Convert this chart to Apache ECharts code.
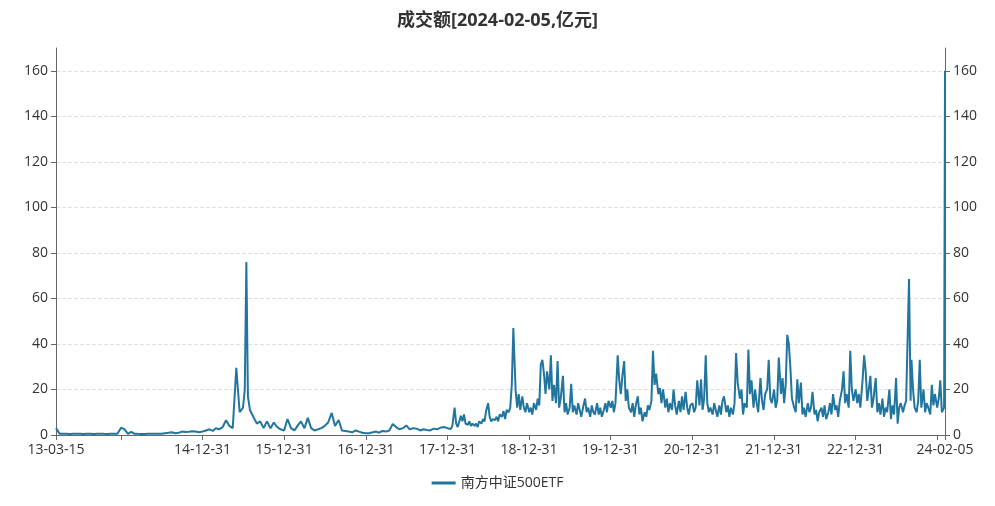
<!DOCTYPE html>
<html>
<head>
<meta charset="utf-8">
<script src="https://cdn.jsdelivr.net/npm/echarts@6/dist/echarts.min.js"></script>
<style>html,body{margin:0;padding:0;background:#fff}#c{width:995px;height:506px}</style>
</head>
<body>
<div id="c"></div>
<script>
// ---- Dates (YY-MM-DD) and turnover values (亿元) ----
const dates2013 = ['13-03-15','13-03-31','13-04-15','13-04-30','13-05-15','13-05-31','13-06-15','13-06-30','13-07-15','13-07-31','13-08-15','13-08-31','13-09-15','13-09-30','13-10-15','13-10-31','13-11-15','13-11-30','13-12-15','13-12-31'];
const vals2013  = [3.0,0.6,0.5,0.5,0.4,0.5,0.5,0.6,0.4,0.5,0.5,0.4,0.5,0.6,0.5,0.4,0.5,0.6,0.5,3.2];
const dates2014 = ['14-01-15','14-01-31','14-02-15','14-02-28','14-03-15','14-03-31','14-04-15','14-04-30','14-05-15','14-05-31','14-06-15','14-06-30','14-07-15','14-07-31','14-08-15','14-08-31','14-09-15','14-09-30','14-10-15','14-10-31','14-11-15','14-11-30','14-12-15','14-12-31'];
const vals2014  = [2.6,0.5,1.4,0.6,0.5,0.4,0.4,0.5,0.5,0.5,0.5,0.6,0.8,1.0,1.2,0.8,1.0,1.5,1.3,1.4,1.6,1.5,1.2,1.5];
const dates2015 = ['15-01-15','15-01-31','15-02-15','15-02-28','15-03-15','15-03-31','15-04-15','15-04-30','15-05-15','15-05-31','15-06-15','15-06-30','15-07-08','15-07-15','15-07-22','15-07-31','15-08-15','15-08-31','15-09-15','15-09-30','15-10-15','15-10-31','15-11-15','15-11-30','15-12-15','15-12-31'];
const vals2015  = [2.0,2.5,1.8,3.0,2.5,3.5,6.5,4.0,3.0,29.5,10,12,20,76,17,11,8,5,6,3,6,3,5.5,3.5,2.5,2.0];
const dates2016 = ['16-01-15','16-01-31','16-02-15','16-02-29','16-03-15','16-03-31','16-04-15','16-04-30','16-05-15','16-05-31','16-06-15','16-06-30','16-07-15','16-07-31','16-08-15','16-08-31','16-09-15','16-09-30','16-10-15','16-10-31','16-11-15','16-11-30','16-12-15','16-12-31'];
const vals2016  = [7,3,2,4,6,3,7.5,3,2,2.5,3,4,5.5,9.7,4,6.6,2,1.8,1.5,1.2,2,1.5,1.0,0.8];
const dates2017 = ['17-01-15','17-01-31','17-02-15','17-02-28','17-03-15','17-03-31','17-04-15','17-04-30','17-05-15','17-05-31','17-06-15','17-06-30','17-07-15','17-07-31','17-08-15','17-08-31','17-09-15','17-09-30','17-10-15','17-10-31','17-11-15','17-11-30','17-12-15','17-12-31'];
const vals2017  = [0.8,1.2,1.5,1.0,1.8,1.5,2.0,4.8,3.5,2.5,3.0,4.2,2.5,3.0,2.8,2.0,2.5,2.2,2.0,2.8,2.5,3.2,3.5,3.0];
const dates2018 = ['18-01-01','18-01-08','18-01-15','18-01-22','18-02-01','18-02-08','18-02-15','18-02-22','18-03-01','18-03-08','18-03-15','18-03-22','18-04-01','18-04-08','18-04-15','18-04-22','18-05-01','18-05-08','18-05-15','18-05-22','18-06-01','18-06-08','18-06-15','18-06-22','18-07-01','18-07-08','18-07-15','18-07-22','18-08-01','18-08-08','18-08-15','18-08-22','18-09-01','18-09-08','18-09-15','18-09-22','18-10-01','18-10-08','18-10-15','18-10-22','18-11-01','18-11-08','18-11-15','18-11-22','18-12-01','18-12-08','18-12-15','18-12-22'];
const vals2018  = [2.5,3,2.6,4, 12,5,3.5,4, 8.4,6,9,5, 4.5,6,4,5, 4,5,3.5,6, 5,7,6,10.5, 14,8,6,7, 6.5,8,6,9, 8,10.5,7,11, 10,12,22,47, 20,12,18,11, 17,12,10,14];
const dates2019 = ['19-01-01','19-01-08','19-01-15','19-01-22','19-02-01','19-02-08','19-02-15','19-02-22','19-03-01','19-03-08','19-03-15','19-03-22','19-04-01','19-04-08','19-04-15','19-04-22','19-05-01','19-05-08','19-05-15','19-05-22','19-06-01','19-06-08','19-06-15','19-06-22','19-07-01','19-07-08','19-07-15','19-07-22','19-08-01','19-08-08','19-08-15','19-08-22','19-09-01','19-09-08','19-09-15','19-09-22','19-10-01','19-10-08','19-10-15','19-10-22','19-11-01','19-11-08','19-11-15','19-11-22','19-12-01','19-12-08','19-12-15','19-12-22'];
const vals2019  = [10,12,9,14, 11,16,13,31, 33,27,18,28, 20,35,15,22, 14,32.5,12,16, 26,10,14,9, 12,22.5,10,13, 9,14,11,8, 13,16,10,12, 8,13,10,9, 14,9,12,8, 11,14,10,15];
const dates2020 = ['20-01-01','20-01-08','20-01-15','20-01-22','20-02-01','20-02-08','20-02-15','20-02-22','20-03-01','20-03-08','20-03-15','20-03-22','20-04-01','20-04-08','20-04-15','20-04-22','20-05-01','20-05-08','20-05-15','20-05-22','20-06-01','20-06-08','20-06-15','20-06-22','20-07-01','20-07-08','20-07-15','20-07-22','20-08-01','20-08-08','20-08-15','20-08-22','20-09-01','20-09-08','20-09-15','20-09-22','20-10-01','20-10-08','20-10-15','20-10-22','20-11-01','20-11-08','20-11-15','20-11-22','20-12-01','20-12-08','20-12-15','20-12-22'];
const vals2020  = [12,15,10,14, 35,24,18,26, 32.5,15,20,12, 10,14,8,13, 17,9,12,6, 10,8,13,11, 15,37,22,27, 18,20.6,14,20, 12,16,10,14, 11,20,13,9, 15,10,17,11, 19,12,9,13];
const dates2021 = ['21-01-01','21-01-08','21-01-15','21-01-22','21-02-01','21-02-08','21-02-15','21-02-22','21-03-01','21-03-08','21-03-15','21-03-22','21-04-01','21-04-08','21-04-15','21-04-22','21-05-01','21-05-08','21-05-15','21-05-22','21-06-01','21-06-08','21-06-15','21-06-22','21-07-01','21-07-08','21-07-15','21-07-22','21-08-01','21-08-08','21-08-15','21-08-22','21-09-01','21-09-08','21-09-15','21-09-22','21-10-01','21-10-08','21-10-15','21-10-22','21-11-01','21-11-08','21-11-15','21-11-22','21-12-01','21-12-08','21-12-15','21-12-22'];
const vals2021  = [14,10,12,24, 13,24.5,11,16, 35,14,10,12, 9,14,11,8, 13,9,15,17, 10,13,8,12, 9,14,36,23, 16,20,9,14, 12,37.5,18,24, 12,20,14,10, 25,15,11,18, 20,33,16,14];
const dates2022 = ['22-01-01','22-01-08','22-01-15','22-01-22','22-02-01','22-02-08','22-02-15','22-02-22','22-03-01','22-03-08','22-03-15','22-03-22','22-04-01','22-04-08','22-04-15','22-04-22','22-05-01','22-05-08','22-05-15','22-05-22','22-06-01','22-06-08','22-06-15','22-06-22','22-07-01','22-07-08','22-07-15','22-07-22','22-08-01','22-08-08','22-08-15','22-08-22','22-09-01','22-09-08','22-09-15','22-09-22','22-10-01','22-10-08','22-10-15','22-10-22','22-11-01','22-11-08','22-11-15','22-11-22','22-12-01','22-12-08','22-12-15','22-12-22'];
const vals2022  = [20,12,15,34, 18,25,14,22, 44,40,29.5,16, 12,10,24.5,14, 23,9,12,8, 14,10,12,19, 9,11,6,10, 12,8,13,7, 10,14,9,18, 11,13,8,15, 20,28,14,18, 12,37,20,15];
const dates2023 = ['23-01-01','23-01-08','23-01-15','23-01-22','23-02-01','23-02-08','23-02-15','23-02-22','23-03-01','23-03-08','23-03-15','23-03-22','23-04-01','23-04-08','23-04-15','23-04-22','23-05-01','23-05-08','23-05-15','23-05-22','23-06-01','23-06-08','23-06-15','23-06-22','23-07-01','23-07-08','23-07-15','23-07-22','23-08-01','23-08-08','23-08-15','23-08-28','23-09-04','23-09-08','23-09-15','23-09-22','23-10-01','23-10-08','23-10-15','23-10-22','23-11-01','23-11-08','23-11-15','23-11-22','23-12-01','23-12-08','23-12-15','23-12-22'];
const vals2023  = [20,14,18,12, 24,35,28,15, 20,26,12,16, 25,10,14,9, 16,8,12,10, 20,7,13,9, 25,5,12,14, 10,13,15,68.5, 15,33,20,12, 10,15,33,12, 20,10,14,12, 9,22,13,18];
const dates2024 = ['24-01-01','24-01-08','24-01-15','24-01-22','24-02-01','24-02-05'];
const vals2024  = [12,16,24,10,12,160];

// ---- Axis ticks ----
const xTickLabels = ['13-03-15','14-12-31','15-12-31','16-12-31','17-12-31','18-12-31','19-12-31','20-12-31','21-12-31','22-12-31','24-02-05'];
const xTickMarks  = ['13-03-15','13-12-31','14-12-31','15-12-31','16-12-31','17-12-31','18-12-31','19-12-31','20-12-31','21-12-31','22-12-31','23-12-31','24-02-05'];
const yTicks = [0,20,40,60,80,100,120,140,160];

const seriesName = '南方中证500ETF';
const titleText = '成交额[2024-02-05,亿元]';

const allDates = [].concat(dates2013,dates2014,dates2015,dates2016,dates2017,dates2018,dates2019,dates2020,dates2021,dates2022,dates2023,dates2024);
const allVals  = [].concat(vals2013,vals2014,vals2015,vals2016,vals2017,vals2018,vals2019,vals2020,vals2021,vals2022,vals2023,vals2024);

function toTime(d) { return new Date('20' + d + 'T00:00:00').getTime(); }
function pad(n) { return (n < 10 ? '0' : '') + n; }
function fmt(t) { const d = new Date(t); return pad(d.getFullYear() % 100) + '-' + pad(d.getMonth() + 1) + '-' + pad(d.getDate()); }

const seriesData = allDates.map((d, i) => [toTime(d), allVals[i]]);

const FONT = '"Open Sans", "Noto Sans CJK SC", sans-serif';
const axisColor = '#666';

function yAxisCfg(pos, showSplit) {
  return {
    type: 'value', position: pos, min: 0, max: 170,
    axisLine: {show: true, lineStyle: {color: axisColor}},
    axisTick: {show: true, customValues: yTicks, lineStyle: {color: axisColor}},
    axisLabel: {customValues: yTicks, color: '#333', fontSize: 14, fontFamily: FONT},
    splitLine: {show: showSplit, lineStyle: {type: 'dashed', color: '#e0e0e0'}}
  };
}

const chart = echarts.init(document.getElementById('c'), null, {renderer: 'canvas'});
chart.setOption({
  animation: false,
  title: {text: titleText, left: 'center', top: 7,
    textStyle: {fontSize: 18, fontWeight: 'bold', color: '#333', fontFamily: FONT}},
  legend: {bottom: 11, left: 'center', icon: 'rect', itemWidth: 24, itemHeight: 3,
    textStyle: {fontSize: 14, color: '#333', fontFamily: FONT}, data: [seriesName]},
  grid: {left: 56, right: 50, top: 48, bottom: 71},
  xAxis: {
    type: 'value', scale: true,
    min: toTime(allDates[0]), max: toTime(allDates[allDates.length - 1]),
    axisLine: {onZero: false, lineStyle: {color: axisColor}},
    axisTick: {show: true, customValues: xTickMarks.map(toTime), lineStyle: {color: axisColor}},
    axisLabel: {customValues: xTickLabels.map(toTime), formatter: fmt, color: '#333', fontSize: 14, fontFamily: FONT, hideOverlap: false},
    splitLine: {show: false}
  },
  yAxis: [yAxisCfg('left', true), yAxisCfg('right', false)],
  series: [{
    name: seriesName, type: 'line', data: seriesData, showSymbol: false, symbol: 'none',
    lineStyle: {width: 2, color: '#21759f'}, itemStyle: {color: '#21759f'}
  }]
});
</script>
</body>
</html>
